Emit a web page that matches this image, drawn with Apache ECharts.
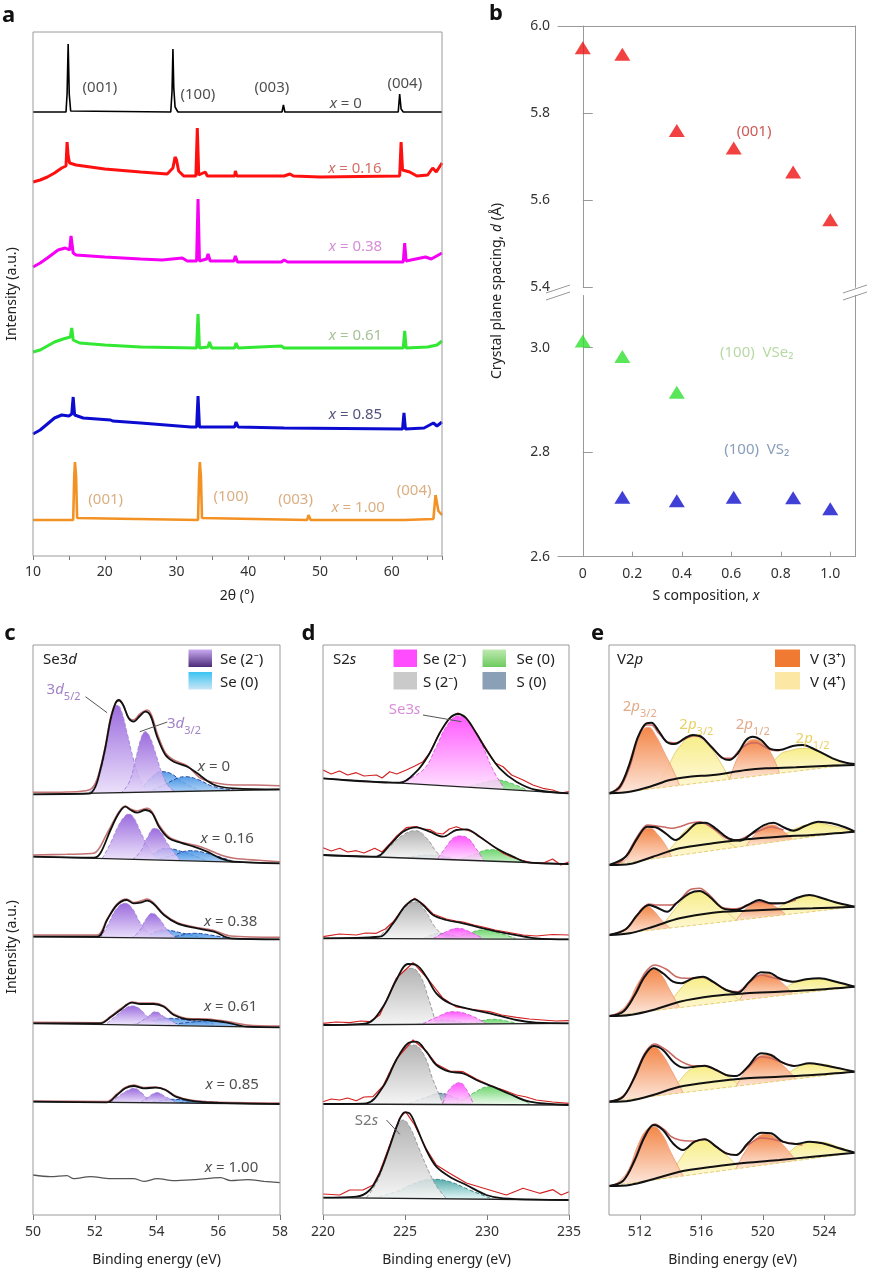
<!DOCTYPE html>
<html><head><meta charset="utf-8">
<script src="https://cdn.jsdelivr.net/npm/echarts@6/dist/echarts.min.js"></script>
<style>html,body{margin:0;padding:0;background:#fff}#chart{width:869px;height:1271px}</style>
</head><body><div id="chart"></div><script>
// ================= DATA =================
// ---- Panel a: XRD patterns (2θ, stacked intensity a.u.)
const xrd_x0 = [[10,444],[14.6,444],[14.75,462],[14.9,512],[15.05,462],[15.25,445],[29.2,444],[29.38,465],[29.5,507],[29.62,468],[29.8,449],[30.2,444],[44.7,444],[44.9,451],[45.1,444],[60.9,444],[61.1,462],[61.3,447],[61.6,444],[67,444]];
const xrd_x016 = [[10,374],[11,376],[12,379],[13,383],[14,388],[14.6,390],[14.75,414],[14.9,400],[15.1,393],[16,391],[18,389],[20,387],[25,384],[28.7,382],[29.5,388],[29.8,399],[30.0,396],[30.3,385],[31,380],[32.7,380],[32.9,428],[33.1,381],[34.0,384],[34.3,380],[38.1,380],[38.2,385],[38.4,380],[45,380],[45.8,382],[46.3,380],[50,379],[61.1,380],[61.3,414],[61.5,386],[62.5,384],[63.5,380],[65,381],[65.7,388],[66.2,384],[67,393]];
const xrd_x038 = [[10,289],[11,293],[12,298],[13.5,306],[14.5,308],[15.1,306],[15.3,320],[15.6,303],[16,301],[20,299],[25,297],[28,296],[30.8,298],[31.5,295],[32.8,295],[33.0,357],[33.2,295],[34.2,297],[34.4,302],[34.7,295],[38.0,295],[38.2,300],[38.5,294],[44.6,294],[45,296],[45.5,294],[61.6,294],[61.8,313],[62.0,295],[64.7,299],[65.5,297],[67,303]];
const xrd_x061 = [[10,204],[11,206],[12,210],[13,214],[14.2,217],[15.2,219],[15.4,228],[15.6,216],[16.5,213],[20,211],[25,209],[32.8,208],[33.0,242],[33.2,208],[34.4,209],[34.6,214],[34.9,208],[38.1,208],[38.3,213],[38.6,208],[44.6,210],[45,208],[61.6,208],[61.8,225],[62.0,208],[65,209],[66.3,211],[67,215]];
const xrd_x085 = [[10,122],[11,126],[12,132],[13,138],[14.0,141],[15.0,140],[15.4,142],[15.6,159],[15.8,141],[17,138],[20.8,136],[20.9,138],[21.1,135],[25,133],[32,129],[32.8,129],[33.0,160],[33.2,129],[38.1,129],[38.3,134],[38.6,129],[45,128],[61.5,127],[61.7,143],[61.9,127],[64.5,128],[65.8,133],[66.3,130],[67,134]];
const xrd_x100 = [[10,36],[15.6,36],[15.75,80],[15.85,94],[16.0,80],[16.15,38],[24.2,37],[24.4,39],[24.6,37],[33.0,36],[33.15,80],[33.25,94],[33.4,80],[33.55,38],[48.2,36],[48.4,41],[48.7,36],[61.8,36],[61.9,38],[62.0,36],[65.8,37],[66.1,61],[66.5,45],[67,41]];
const xrdColors = ['#000000','#ff1010','#f500f5','#33e833','#0c0cd0','#f39222'];
const xrdWidths = [1.6,3,3,3,3,2.6];
const aAnn = [
 [19.33,467,'{n|(001)}','#222'],[32.98,460,'{n|(100)}','#222'],[43.29,467,'{n|(003)}','#222'],
 [53.59,451,'{i|x}{n| = 0}','#222'],[61.81,471,'{n|(004)}','#222'],
 [54.85,386,'{i|x}{n| = 0.16}','#c84a3c'],[54.94,307.7,'{i|x}{n| = 0.38}','#cc6fcc'],
 [54.94,219,'{i|x}{n| = 0.61}','#8fb27a'],[54.94,139.3,'{i|x}{n| = 0.85}','#27275a'],
 [20.13,54.3,'{n|(001)}','#d29a62'],[37.58,58,'{n|(100)}','#d29a62'],[46.59,54.3,'{n|(003)}','#d29a62'],
 [55.31,47,'{i|x}{n| = 1.00}','#d29a62'],[63.11,64,'{n|(004)}','#d29a62']
];

// ---- Panel b: crystal plane spacing
const sComp = [0,0.16,0.38,0.61,0.85,1.0];
const d001 = [5.95,5.935,5.76,5.72,5.665,5.555];
const d100VSe2_x = [0,0.16,0.38];
const d100VSe2 = [3.013,2.983,2.915];
const d100VS2_x = [0.16,0.38,0.61,0.85,1.0];
const d100VS2 = [2.714,2.707,2.714,2.713,2.692];
const bXTicks = [0,0.2,0.4,0.6,0.8,1.0];

// ---- Panel c: Se3d (binding energy eV, stacked intensity)
const c1_base=[[50,420.7],[58,425.5]];
const c1_env=[[50,420.7],[51.81,421.3],[52.02,428.3],[52.18,445],[52.35,468.3],[52.51,495],[52.67,511.7],[52.78,515],[52.92,510],[53.10,496.7],[53.26,493.3],[53.46,499],[53.64,503.3],[53.81,499],[54.02,478.3],[54.29,460],[54.56,453.3],[55.0,448.3],[55.32,441.7],[55.64,434.3],[55.97,429],[56.51,426.7],[58,425.7]];
const c1_data=[[50,422.7],[51.1,423],[51.81,425],[52.02,431.7],[52.18,446.7],[52.35,470],[52.51,497],[52.67,512],[52.78,514],[52.92,510],[53.10,497],[53.26,495],[53.46,501],[53.70,505],[53.85,499],[54.02,481.7],[54.29,462],[54.56,455],[55.0,449],[55.43,436.7],[55.97,431.7],[56.51,430],[57.16,430],[58,429.3]];
const c1_p52=[[51.81,421.3],[52.18,443.3],[52.40,475],[52.59,501.7],[52.72,510],[52.85,505],[53.05,481.7],[53.26,455],[53.48,435],[53.75,424],[54.02,421.7]];
const c1_p32=[[52.83,421.3],[53.10,431.7],[53.32,455],[53.50,476.7],[53.64,483.3],[53.78,478.3],[53.97,461.7],[54.18,441.7],[54.45,426.7],[54.78,421.7]];
const c1_s0a=[[53.05,421.7],[53.48,426.7],[53.86,438.3],[54.15,443.3],[54.45,441.7],[54.83,433.3],[55.43,424]];
const c1_s0b=[[53.70,422.3],[54.24,430],[54.67,436.7],[54.94,438.3],[55.32,435.7],[55.86,428.3],[56.51,425]];

const c2_base=[[50,358.3],[58,351.7]];
const c2_env=[[50,358.3],[51.97,357.3],[52.18,361.7],[52.51,385],[52.78,401.7],[52.99,408.3],[53.16,405],[53.37,402.3],[53.64,405],[53.86,401.7],[54.08,388.3],[54.40,376.7],[54.78,372.3],[55.21,368.3],[55.64,363.3],[56.08,356.7],[56.51,353.3],[58,351.7]];
const c2_data=[[50,360],[51.10,360.7],[51.97,361.7],[52.40,381.7],[52.78,403],[52.99,409],[53.16,406],[53.37,404],[53.70,406.7],[53.86,403],[54.08,390],[54.40,378],[54.78,373],[55.43,368.3],[56.08,360],[56.51,356.7],[58,353.3]];
const c2_p52=[[52.24,356.3],[52.51,371.7],[52.78,390],[52.96,398.3],[53.10,401],[53.26,397.3],[53.48,383.3],[53.75,366.7],[54.02,355.7]];
const c2_p32=[[53.21,355],[53.48,363.3],[53.72,378.3],[53.94,386.7],[54.13,383.3],[54.35,371.7],[54.78,354.3]];
const c2_s0a=[[53.26,355],[53.81,360],[54.29,366.7],[54.83,363.3],[55.64,354.3]];
const c2_s0b=[[53.91,354.3],[54.56,360],[55.10,364.3],[55.64,361.7],[56.51,353.3]];

const c3_base=[[50,278.3],[58,275.7]];
const c3_env=[[50,278.3],[52.08,278.3],[52.40,295],[52.72,310],[53.03,315],[53.26,311.7],[53.48,312.3],[53.70,314.3],[53.91,311],[54.24,300],[54.67,291.7],[55.21,287.3],[55.86,283.3],[56.40,276.7],[58,275.7]];
const c3_data=[[50,280],[52.08,280],[52.40,296],[52.72,311],[53.03,316],[53.26,312.5],[53.48,314],[53.70,316],[53.91,312],[54.24,301],[54.67,292.5],[55.21,288],[55.86,284.5],[56.40,279],[58,277.7]];
const c3_p52=[[52.18,276.7],[52.45,291.7],[52.72,306.7],[52.99,311.7],[53.21,306.7],[53.48,291.7],[53.91,276]];
const c3_p32=[[53.16,276],[53.43,283.3],[53.68,296.7],[53.86,301.7],[54.08,296.7],[54.35,285],[54.67,276]];
const c3_s0a=[[53.16,276],[53.70,280],[54.24,285],[54.78,282.3],[55.64,276]];
const c3_s0b=[[54.02,276],[54.67,279],[55.21,281.7],[55.75,280],[56.40,276]];

const c4_base=[[50,191.7],[58,187.7]];
const c4_env=[[50,191.7],[52.18,191.7],[52.51,197.7],[52.83,205],[53.21,212.3],[53.48,211],[53.91,211],[54.24,208.3],[54.56,200],[55.0,195.7],[55.64,195],[56.30,192.3],[56.94,188.3],[58,187.7]];
const c4_data=[[50,192.7],[52.18,192.3],[52.51,198.5],[52.83,206],[53.21,213],[53.48,212],[53.91,212],[54.24,209],[54.56,201],[55.0,196.5],[55.64,196],[56.30,193.5],[56.94,190],[58,189]];
const c4_p52=[[52.40,191.7],[52.72,200],[52.99,206.7],[53.21,209],[53.43,206.7],[53.70,198.3],[54.02,191]];
const c4_p32=[[53.37,191],[53.70,197.7],[53.97,203.3],[54.24,198.3],[54.67,191]];
const c4_s0a=[[53.26,191],[53.81,194],[54.35,196.7],[55.0,195],[55.86,191]];
const c4_s0b=[[54.35,190.3],[55.10,192.7],[55.64,194],[56.18,192.7],[56.72,189]];

const c5_base=[[50,113.3],[58,111]];
const c5_env=[[50,113.3],[52.40,112.7],[52.72,120],[52.99,126.7],[53.26,129],[53.59,126.7],[53.97,127.3],[54.29,125],[54.62,118.3],[55.10,114.3],[55.86,112.3],[58,111]];
const c5_data=[[50,114],[52.40,113.5],[52.72,121],[52.99,127.5],[53.26,130],[53.59,127.5],[53.97,128],[54.29,125.5],[54.62,119],[55.10,115],[55.86,113],[58,112]];
const c5_p52=[[52.51,112.3],[52.83,120],[53.10,125],[53.26,126.7],[53.48,123.3],[53.81,112]];
const c5_p32=[[53.48,112],[53.75,118.3],[54.02,122.3],[54.29,118.3],[54.67,112]];
const c5_s0a=[[53.48,111.7],[54.02,113.7],[54.45,115.7],[55.10,114.3],[55.86,111.7]];
const c5_s0b=[[54.56,111.5],[55.43,113.7],[56.3,111.3]];

const c6_data=[[50,40],[50.56,38.3],[51.10,39.3],[51.32,36.3],[51.86,38.3],[52.51,36.3],[53.26,36.3],[53.59,33.7],[54.02,36.3],[54.56,34.3],[55.21,35.3],[56.08,37.3],[56.40,34.3],[56.94,35.3],[57.48,33.7],[58,32.3]];
const cAnn = [
 [55.86,446.7,'{i|x}{n| = 0}','#222'],[56.29,375,'{i|x}{n| = 0.16}','#222'],[56.40,291.7,'{i|x}{n| = 0.38}','#222'],
 [56.40,206.7,'{i|x}{n| = 0.61}','#222'],[56.45,129,'{i|x}{n| = 0.85}','#222'],[56.43,45.7,'{i|x}{n| = 1.00}','#222'],
 [50.99,524,'{n|3}{i|d}{s|5/2}','#8a62b8'],[54.89,490,'{n|3}{i|d}{s|3/2}','#8a62b8']
];
const cLeader1=[[51.70,518.3],[52.40,502.3]];
const cLeader2=[[54.35,493],[53.46,483.3]];

// ---- Panel d: S2s
const d1_base=[[220,436.7],[235,421.7]];
const d1_env=[[220,436.7],[224.67,432.3],[225.69,443.3],[226.50,461.7],[227.11,481.7],[227.72,496.7],[228.23,501],[228.74,496.7],[229.35,481.7],[229.96,465],[230.77,446.7],[231.79,433.3],[233.0,425],[235,421.7]];
const d1_data=[[220,445],[220.5,441],[221,444],[221.5,440],[222.03,442.3],[222.5,439],[223.25,440],[223.6,437],[224.07,443.3],[224.5,441],[225.08,445],[225.6,449],[226.10,453.3],[226.5,462],[227.11,482],[227.72,497],[228.23,502],[228.74,497],[229.35,482],[229.96,466],[230.5,452],[230.98,448.3],[231.5,440],[232.2,435],[232.8,430],[233.41,426.7],[234,425],[234.5,422],[235,423.3]];
const d1_se2=[[224.67,432.3],[226.10,445],[226.91,468.3],[227.52,488.3],[228.23,499],[228.94,491.7],[229.65,471.7],[230.37,445],[230.98,428.3]];
const d1_se0=[[228.94,429],[229.76,432.3],[230.57,435],[231.38,432.3],[232.40,425.3]];

const d2_base=[[220,360],[235,351]];
const d2_env=[[220,360],[223.25,358.3],[224.07,370],[224.88,383.3],[225.69,387.7],[226.50,383.3],[227.32,378.3],[228.13,385],[228.74,385.7],[229.55,378.3],[230.57,366.7],[231.59,358.3],[232.60,352.3],[235,351]];
const d2_data=[[220,367.3],[220.5,364],[221.02,366.7],[221.5,363],[222.03,364.3],[222.5,362],[223.15,366.7],[223.6,363],[224.07,371],[224.5,379],[225.08,387.3],[225.69,388.5],[226.10,386],[226.50,385.5],[226.9,382],[227.32,381],[227.7,386],[228.13,388.3],[228.5,386],[228.94,384],[229.35,381],[229.76,376],[230.2,371],[230.98,361.7],[231.5,358],[232.2,354.3],[232.8,352],[233.41,351.7],[234,356],[234.5,350],[235,353.3]];
const d2_s2=[[223.25,358.3],[224.07,368.3],[224.88,380],[225.65,384.3],[226.32,376.7],[226.91,363.3],[227.32,356.7]];
const d2_s0=[[224.67,356.3],[225.69,359],[226.50,360],[227.32,359],[228.13,355.7]];
const d2_se2=[[227.01,356.7],[227.52,368.3],[227.93,376.7],[228.33,379],[228.84,376.7],[229.25,368.3],[229.76,355.7]];
const d2_se0=[[228.13,355],[229.15,360],[230.16,365.3],[230.98,363.3],[232.20,352.3]];

const d3_base=[[220,276.7],[235,275.7]];
const d3_env=[[220,276.7],[223.46,278.3],[224.27,291.7],[224.98,308.3],[225.59,315.7],[226.10,310],[226.71,300],[227.52,295],[228.54,291.7],[229.76,286.7],[231.18,281.7],[233.0,276.7],[235,275.7]];
const d3_data=[[220,278.3],[221,281],[222.03,280],[222.6,282],[223.25,281.7],[223.8,286],[224.27,293],[224.98,309],[225.59,316.7],[226.10,311],[226.71,301],[227.52,296],[228.1,294],[228.54,293],[229.2,290],[229.76,288],[230.5,285],[231.18,283],[232.2,280],[233.0,279],[234,280.5],[235,280]];
const d3_s2=[[223.25,276.7],[224.07,288.3],[224.88,305],[225.59,313.3],[226.20,305],[226.81,288.3],[227.52,276.3]];
const d3_s0=[[226.10,276.3],[227.11,281.7],[228.54,276.3]];
const d3_se2=[[226.71,276.3],[227.52,283.3],[228.23,286.7],[228.94,283.3],[229.76,276.3]];
const d3_se0=[[227.72,276.3],[228.74,281],[229.76,285],[230.77,281.7],[231.79,276.3]];

const d4_base=[[220,190],[235,191.7]];
const d4_env=[[220,190],[222.64,191.7],[223.66,208.3],[224.47,235],[225.18,251],[225.69,250],[226.30,238.3],[226.91,221.7],[227.72,211.7],[228.74,206.7],[230.16,201.7],[231.79,195],[233.0,192.3],[235,191.7]];
const d4_data=[[220,191.7],[220.8,193],[221.63,192.3],[222.3,194],[222.85,193.3],[223.46,200],[224.47,236.7],[225.49,252.3],[226.40,236],[227.32,216.7],[228.13,208],[228.94,206],[230.16,203.3],[230.9,200],[231.79,197.7],[232.6,196],[233.41,195],[234.2,194],[235,194.3]];
const d4_s2=[[222.64,191],[223.46,201.7],[224.27,228.3],[224.88,243.3],[225.39,246.7],[225.90,240],[226.40,218.3],[226.91,190]];
const d4_s0=[[225.69,191],[227.32,195],[228.94,191]];
const d4_se2=[[226.10,191],[226.91,197.7],[227.93,203.3],[228.94,200],[229.96,191]];
const d4_se0=[[228.54,191],[229.55,194],[230.37,195.7],[231.18,194],[232.0,191]];

const d5_base=[[220,111],[235,110]];
const d5_env=[[220,111],[222.64,111.7],[223.66,128.3],[224.47,155],[225.18,171.7],[225.69,173.3],[226.30,163.3],[226.91,150],[227.72,143.3],[228.54,141.7],[229.35,135],[230.37,128.3],[231.38,121],[232.60,113.3],[235,110]];
const d5_data=[[220,113.3],[220.5,116],[221.02,115],[221.5,117],[222.03,114.3],[222.5,118],[223.05,118.3],[223.66,129],[224.47,156],[225.49,175],[226.30,164],[226.91,151],[227.72,144],[228.54,143.3],[229.35,136],[230.37,128.3],[231.0,125],[231.79,120],[232.4,118],[233.0,115],[234,113],[235,111.7]];
const d5_s2=[[222.64,111],[223.46,123.3],[224.27,150],[224.98,166.7],[225.49,170],[226.10,161.7],[226.71,135],[227.32,111]];
const d5_s0=[[225.28,111.7],[226.30,117.7],[227.11,121.7],[227.93,118.3],[228.74,111.7]];
const d5_se2=[[227.32,111.7],[227.68,125],[228.33,132.3],[228.74,125.7],[229.15,111.7]];
const d5_se0=[[228.13,111],[229.15,121.7],[230.16,128.3],[231.18,123.3],[231.99,116.7],[232.60,111]];

const d6_base=[[220,17.3],[235,15]];
const d6_env=[[220,17.3],[222.03,18.3],[222.85,25],[223.46,41.7],[224.07,68.3],[224.57,91.7],[224.98,102.7],[225.28,101.7],[225.69,88.3],[226.30,65],[226.91,48.3],[227.72,38.3],[228.74,30],[229.96,20],[230.98,16.7],[235,15]];
const d6_data=[[220,21],[221.02,20],[221.63,25],[222.44,25],[223.05,30],[223.46,43],[224.07,70],[224.67,96.7],[225.04,103.3],[225.59,90],[226.30,66],[226.91,50],[227.72,41.7],[228.74,32],[230.16,25],[231.18,20],[232.20,26.7],[233.21,21.7],[234.02,25.3],[234.53,20],[235,23.3]];
const d6_s2=[[222.64,17.3],[223.35,35],[223.96,65],[224.47,86.7],[224.88,95],[225.28,88.3],[225.89,65],[226.50,41.7],[227.01,26.7],[227.52,16.7]];
const d6_s0=[[223.05,16.7],[224.47,23.3],[225.69,32.3],[226.71,35.7],[227.72,33.3],[228.94,25],[230.37,15.7]];
const dAnn = [[224.98,503.3,'{n|Se3}{i|s}','#d070d0'],[222.65,92.3,'{n|S2}{i|s}','#555']];
const dLeader1=[[226.10,500],[228.44,493.3]];
const dLeader2=[[223.87,95],[224.68,80.7]];

// ---- Panel e: V2p
const e1_line=[[510,421],[526,451]];
const e1_shirley=[[510,421.7],[511.35,423.3],[512.65,428.3],[513.95,435],[515.24,438.3],[516.76,440],[518.92,445],[520.22,446.7],[522.16,447.7],[524.32,449.3],[526,450]];
const e1_env=[[510,421.7],[510.70,428.3],[511.35,451.7],[511.89,478.3],[512.43,491.7],[512.76,492.3],[513.19,485],[513.73,473.3],[514.27,471],[514.92,476.7],[515.46,480],[516.0,478.3],[516.65,468.3],[517.41,456.7],[517.84,455],[518.38,461.7],[518.92,475],[519.35,478.3],[519.89,475],[520.43,466.7],[521.08,465],[521.95,469],[522.59,470],[523.46,465],[524.54,456.7],[525.41,452.3],[526,451]];
const e1_data=[[510,421],[510.70,426.7],[511.35,448.3],[511.89,476.7],[512.43,490],[512.76,490],[513.24,481.7],[513.79,473.3],[514.38,472.3],[515.03,476.7],[515.57,479.3],[516.11,476.7],[516.76,466.7],[517.41,456.7],[517.95,456.7],[518.49,465],[519.03,471],[519.57,472.3],[520.11,468.3],[520.54,465],[521.08,464.3]];
const e1_v3a=[[510.05,421.1],[510.92,435],[511.57,465],[512.11,483.3],[512.54,487.7],[513.08,478.3],[513.62,461.7],[514.16,445],[514.59,429.6]];
const e1_v4a=[[513.08,426.8],[513.95,451.7],[514.59,468.3],[515.46,479],[516.32,471.7],[517.08,456.7],[517.84,435.7]];
const e1_v3b=[[517.84,435.7],[518.49,461.7],[519.03,473.3],[519.46,475.3],[520.0,471.7],[520.54,461.7],[521.08,441.8]];
const e1_v4b=[[520.22,440.2],[521.08,460],[521.95,465],[522.59,466.7],[523.46,465],[524.32,458.3],[525.41,449.9]];

const e2_line=[[510,350],[526,384.3]];
const e2_shirley=[[510,350],[511.35,351],[512.86,358.3],[514.59,366.7],[516.76,371.7],[518.92,375.7],[521.08,378.3],[523.24,380],[526,383.3]];
const e2_env=[[510,350],[511.08,358.3],[511.84,376.7],[512.49,388.3],[513.03,387.7],[513.68,381.7],[514.32,375],[514.97,381.7],[515.73,391.7],[516.27,392.3],[516.92,386.7],[517.78,376.7],[518.54,374.3],[519.30,381.7],[520.05,389.7],[520.70,392.3],[521.35,387.7],[522.0,384.3],[522.76,389],[523.62,393.3],[524.49,391.7],[525.35,387.7],[526,383.3]];
const e2_data=[[510,350],[510.65,352.3],[511.08,358.3],[511.84,378.3],[512.49,390],[513.03,389.3],[513.68,387.7],[514.11,386.7],[514.59,388.3],[515.24,391.7],[515.89,393.3],[516.76,386.7],[517.62,376.7],[518.38,375],[519.14,380],[519.89,385],[520.54,388],[521.35,385]];
const e2_v3a=[[510.05,350.1],[511.08,355],[511.57,371.7],[512.11,383.3],[512.65,386.7],[513.19,380],[513.73,368.3],[514.05,358.7]];
const e2_v4a=[[513.51,357.5],[514.38,373.3],[515.14,386.7],[515.89,391.7],[516.65,387.3],[517.41,376.7],[518.27,367.7]];
const e2_v3b=[[518.92,369.1],[519.57,381.7],[520.11,388.3],[520.70,390],[521.08,386.7],[521.51,381.7],[521.95,375.6]];
const e2_v4b=[[520.65,372.8],[521.73,383.3],[522.81,390],[523.57,391.7],[524.54,389],[525.41,385.7],[526,384.3]];

const e3_line=[[510,280],[526,308.3]];
const e3_shirley=[[510,280],[511.35,281.7],[512.86,288.3],[514.59,296.7],[516.76,302.3],[518.92,304.3],[521.08,305.7],[523.24,306.7],[526,308.3]];
const e3_env=[[510,280],[511.08,285.7],[511.84,300],[512.59,310],[513.14,307.3],[513.78,303.3],[514.38,311.7],[515.24,321.7],[515.89,324],[516.54,318.3],[517.41,306.7],[518.27,305],[519.03,310],[519.78,315],[520.54,311.7],[521.30,311.7],[522.16,316.7],[523.03,320],[523.89,316.7],[524.97,311.7],[526,308.3]];
const e3_data=[[510,280],[511.08,285.7],[511.84,300],[512.59,311],[513.14,310],[513.89,310],[514.38,311.7],[515.24,325],[515.89,326.7],[516.54,320],[517.41,307.3],[518.27,306.3],[519.03,310],[519.78,313.3],[520.54,311],[521.30,311.7],[522.16,315]];
const e3_v3a=[[510.05,280.1],[511.08,285],[511.73,296.7],[512.11,306.7],[512.43,309],[512.86,305],[513.41,295],[513.95,287]];
const e3_v4a=[[513.30,285.8],[514.16,303.3],[515.03,318.3],[515.78,323.3],[516.54,318.3],[517.41,306.7],[518.27,294.6]];
const e3_v3b=[[518.27,294.6],[518.92,306.7],[519.46,311.7],[520.0,313.3],[520.65,310],[521.51,300.4]];
const e3_v4b=[[520.22,298.1],[521.30,310],[522.16,315.7],[523.03,319],[523.89,316.7],[524.97,311.7],[526,308.3]];

const e4_line=[[510,199],[526,228.3]];
const e4_shirley=[[510,199],[511.35,200],[512.86,205],[514.59,213.3],[516.76,219],[518.92,221.7],[521.08,223.3],[523.24,225],[526,228.3]];
const e4_env=[[510,199],[510.92,203.3],[511.68,220],[512.32,238.3],[512.91,246.7],[513.51,241.7],[514.16,233.3],[514.70,231.7],[515.46,236.7],[516.11,238.3],[516.76,233.3],[517.62,225],[518.38,222.3],[519.14,233.3],[519.89,242.7],[520.43,242.3],[521.08,236.7],[521.95,233.3],[522.81,235.7],[523.68,236.7],[524.76,233.3],[526,228.3]];
const e4_data=[[510,199],[510.92,204.3],[511.68,221.7],[512.32,241.7],[512.97,250],[513.73,245.7],[514.38,238.3],[515.03,236.7],[515.46,236.7],[516.11,237.7],[516.76,233.3],[517.62,225],[518.38,223.3],[519.14,233.3],[519.89,240],[520.54,237.7],[521.08,235.7],[521.95,233.3]];
const e4_v3a=[[510.27,199.5],[511.14,210],[511.89,231.7],[512.43,241.7],[512.91,245.7],[513.41,240],[513.95,225],[514.59,207.4]];
const e4_v4a=[[513.73,205.8],[514.59,225],[515.35,235],[516.0,236.7],[516.76,232.3],[517.62,225],[518.49,214.5]];
const e4_v3b=[[518.49,214.5],[519.14,231.7],[519.68,239],[520.22,241],[520.86,236.7],[521.41,230],[521.95,220.9]];
const e4_v4b=[[520.86,218.9],[521.95,231.7],[522.81,235],[523.68,235.7],[524.76,233.3],[526,228.3]];

const e5_line=[[510,113.3],[526,143.3]];
const e5_shirley=[[510,113.3],[511.35,114.3],[512.86,120],[514.59,128.3],[516.76,133.3],[518.92,136.7],[521.08,138.3],[523.24,140],[526,143.3]];
const e5_env=[[510,113.3],[510.92,118.3],[511.68,138.3],[512.32,160],[512.91,169],[513.51,165],[514.27,151.7],[514.92,147.3],[515.57,148.3],[516.22,149.3],[516.97,145],[517.62,140],[518.27,139],[519.03,148.3],[519.89,161.7],[520.54,160],[521.30,152.3],[522.05,149],[523.03,151.7],[523.89,150],[524.97,146.7],[526,143.3]];
const e5_data=[[510,113.3],[510.92,118.3],[511.68,139],[512.32,161.7],[512.97,171],[513.73,165],[514.38,156.7],[515.03,151],[515.57,149],[516.22,149.3],[516.97,145],[517.62,140],[518.27,139],[519.03,147],[519.89,158.3],[520.54,156.7],[521.30,152.3],[522.05,149]];
const e5_v3a=[[510.27,113.8],[511.14,123.3],[511.89,148.3],[512.43,163.3],[512.91,167.7],[513.41,161.7],[514.05,145],[514.81,122.3]];
const e5_v4a=[[513.95,120.7],[514.81,138.3],[515.46,146.7],[516.11,148.3],[516.86,145],[517.62,140],[518.49,129.2]];
const e5_v3b=[[518.27,128.8],[518.92,145],[519.57,156.7],[520.22,160],[520.86,155.7],[521.51,146.7],[522.16,136.1]];
const e5_v4b=[[521.08,134.1],[522.16,146.7],[523.03,151],[523.89,150.7],[524.97,146.7],[526,143.3]];

const e6_line=[[510,29],[526,62.3]];
const e6_shirley=[[510,29],[511.35,30],[512.86,35.7],[514.59,43.3],[516.76,48.3],[518.92,52.3],[521.08,55],[523.24,58.3],[526,62.3]];
const e6_env=[[510,29],[510.92,34.3],[511.68,55],[512.32,78.3],[512.91,90],[513.51,85],[514.16,71.7],[514.81,65],[515.57,73.3],[516.22,75.7],[516.97,68.3],[517.62,61.7],[518.27,60],[519.03,71.7],[519.89,82.3],[520.54,81.7],[521.30,73.3],[522.16,71],[523.03,73.3],[523.89,71.7],[524.97,66.7],[526,62.3]];
const e6_data=[[510,29],[510.92,34.3],[511.68,56.7],[512.32,80],[512.97,91],[513.62,85],[514.05,78.3],[514.59,75],[515.24,74],[515.57,74],[516.22,75.7],[516.97,68.3],[517.62,61.7],[518.27,60],[519.03,70],[519.89,77],[520.54,76],[521.30,73.3],[522.16,71],[522.59,70]];
const e6_v3a=[[510.27,29.6],[511.14,41.7],[511.89,70],[512.43,85],[512.91,88.3],[513.41,81.7],[514.05,61.7],[514.81,39]];
const e6_v4a=[[513.95,37.2],[514.81,60],[515.57,72.3],[516.22,75],[516.97,68.3],[517.62,60],[518.49,46.7]];
const e6_v3b=[[518.27,46.2],[518.92,65],[519.57,76.7],[520.22,81],[520.86,76.7],[521.51,66.7],[522.16,54.3]];
const e6_v4b=[[521.08,52],[522.16,68.3],[523.03,73.3],[523.89,72.7],[524.97,67.7],[526,62.3]];
const eAnn = [[512.0,506.7,'{n|2}{i|p}{s|3/2}','#d9946a'],[515.68,488.3,'{n|2}{i|p}{s|3/2}','#e3c53e'],[519.35,488.3,'{n|2}{i|p}{s|1/2}','#d9946a'],[523.24,475,'{n|2}{i|p}{s|1/2}','#e3c53e']];
const eXTicks = [512,516,520,524];

// ================= BUILD =================
const FONT = "'Noto Sans', 'DejaVu Sans', sans-serif";
const YI = {0:0, 1:1, 2:3, 3:5, 4:6, 5:7};
const RICH = {
  n:{fontFamily:FONT,fontSize:15,verticalAlign:'top',lineHeight:18},
  i:{fontFamily:FONT,fontSize:15,fontStyle:'italic',verticalAlign:'top',lineHeight:18},
  s:{fontFamily:FONT,fontSize:11,verticalAlign:'top',lineHeight:11,padding:[9,0,0,0]}
};
const series = [];
function addLine(g, pts, color, width, z, extra){
  series.push(Object.assign({type:'line', xAxisIndex:g, yAxisIndex:YI[g], data:pts, symbol:'none', silent:true,
    smooth:false, z:z, lineStyle:{color:color, width:width}}, extra||{}));
}
function addFill(g, pts, col, z){
  const ys = pts.map(p=>p[1]); const mx = Math.max.apply(null, ys), mn = Math.min.apply(null, ys);
  const f = Math.max(0.05, Math.min(1, (mx-mn)/mx));
  series.push({type:'line', xAxisIndex:g, yAxisIndex:YI[g], data:pts, symbol:'none', silent:true, smooth:0.45, z:z,
    lineStyle:{color:col.line, width:1, type: col.dash?'dashed':'solid'},
    areaStyle:{opacity:col.op||0.85, color:{type:'linear',x:0,y:0,x2:0,y2:1,colorStops:[{offset:0,color:col.top},{offset:f,color:col.bot},{offset:1,color:col.bot}]}}});
}
function addMask(g, pts, z){
  series.push({type:'line', xAxisIndex:g, yAxisIndex:YI[g], data:pts, symbol:'none', silent:true, z:z,
    lineStyle:{opacity:0, width:0}, areaStyle:{color:'#ffffff', opacity:1}});
}
function addLabels(g, items, z){
  series.push({type:'scatter', xAxisIndex:g, yAxisIndex:YI[g], z:z||150, silent:true, symbolSize:1,
    itemStyle:{color:'rgba(0,0,0,0)'},
    data: items.map(it=>({value:[it[0],it[1]], name:it[2], label:{color:it[3]}})),
    label:{show:true, position:'inside', formatter:p=>p.name, rich:RICH, fontFamily:FONT, fontSize:15}});
}

// Panel a
[xrd_x0,xrd_x016,xrd_x038,xrd_x061,xrd_x085,xrd_x100].forEach((d,i)=>addLine(0,d,xrdColors[i],xrdWidths[i],5+i));
addLabels(0, aAnn);

// Panel b
series.push({type:'scatter', xAxisIndex:1, yAxisIndex:1, symbol:'triangle', symbolSize:[16,13], itemStyle:{color:'#ee1111'}, data:sComp.map((x,i)=>[x,d001[i]]), z:5});
series.push({type:'scatter', xAxisIndex:2, yAxisIndex:3, symbol:'triangle', symbolSize:[16,13], itemStyle:{color:'#2fe02f'}, data:d100VSe2_x.map((x,i)=>[x,d100VSe2[i]]), z:5});
series.push({type:'scatter', xAxisIndex:2, yAxisIndex:3, symbol:'triangle', symbolSize:[16,13], itemStyle:{color:'#1010cc'}, data:d100VS2_x.map((x,i)=>[x,d100VS2[i]]), z:5});
addLabels(1, [[0.692,5.754,'{n|(001)}','#c0302a']]);
addLabels(2, [[0.703,2.988,'{n|(100)  VSe₂}','#a6cf8e'],[0.703,2.801,'{n|(100)  VS₂}','#6a86ab']]);

// Panel c
const C_PUR = {top:'#8a52d8', bot:'#e8dcfa', line:'#a688dc', dash:true};
const C_BLU = {top:'#3a8ce4', bot:'#d9ebfb', line:'#2b4da5', dash:true};
const cRows = [
  [c1_base,c1_env,c1_data,[c1_p52,c1_p32],[c1_s0a,c1_s0b]],
  [c2_base,c2_env,c2_data,[c2_p52,c2_p32],[c2_s0a,c2_s0b]],
  [c3_base,c3_env,c3_data,[c3_p52,c3_p32],[c3_s0a,c3_s0b]],
  [c4_base,c4_env,c4_data,[c4_p52,c4_p32],[c4_s0a,c4_s0b]],
  [c5_base,c5_env,c5_data,[c5_p52,c5_p32],[c5_s0a,c5_s0b]]
];
cRows.forEach((r,i)=>{
  const z0 = 20*(i+1);
  r[4].forEach((p,j)=>addFill(3,p,C_BLU,z0+1+j));
  r[3].forEach((p,j)=>addFill(3,p,C_PUR,z0+3+j));
  addMask(3, r[0], z0+8);
  addLine(3, r[0], '#222', 1.3, z0+9);
  addLine(3, r[2], '#c47272', 1.6, z0+10, {smooth:0.3});
  addLine(3, r[1], '#111', 1.8, z0+11, {smooth:0.35});
});
addLine(3, c6_data, '#555', 1.3, 130, {smooth:0.3});
addLine(3, cLeader1, '#555', 1, 140);
addLine(3, cLeader2, '#555', 1, 140);
addLabels(3, cAnn);

// Panel d
const D_PINK = {top:'#ff3cff', bot:'#ffd8ff', line:'#e060e0', dash:true};
const D_GRAY = {top:'#a6a6a6', bot:'#f3f3f3', line:'#9a9a9a', dash:true};
const D_GREEN = {top:'#58d058', bot:'#e8f8e8', line:'#62bf62', dash:true};
const D_SLATE = {top:'#6a90a4', bot:'#dde9ef', line:'#5a7a90', dash:true};
const D_TEAL = {top:'#3a9e9e', bot:'#e2f6f6', line:'#3a8a8a', dash:true};
const dRows = [
  [d1_base,d1_env,d1_data,[[d1_se0,D_GREEN],[d1_se2,D_PINK]]],
  [d2_base,d2_env,d2_data,[[d2_s0,D_SLATE],[d2_se0,D_GREEN],[d2_s2,D_GRAY],[d2_se2,D_PINK]]],
  [d3_base,d3_env,d3_data,[[d3_s0,D_SLATE],[d3_se0,D_GREEN],[d3_s2,D_GRAY],[d3_se2,D_PINK]]],
  [d4_base,d4_env,d4_data,[[d4_s0,D_SLATE],[d4_se0,D_GREEN],[d4_s2,D_GRAY],[d4_se2,D_PINK]]],
  [d5_base,d5_env,d5_data,[[d5_s0,D_SLATE],[d5_se0,D_GREEN],[d5_s2,D_GRAY],[d5_se2,D_PINK]]],
  [d6_base,d6_env,d6_data,[[d6_s0,D_TEAL],[d6_s2,D_GRAY]]]
];
dRows.forEach((r,i)=>{
  const z0 = 20*(i+1);
  r[3].forEach((c,j)=>addFill(4,c[0],c[1],z0+1+j));
  addMask(4, r[0], z0+8);
  addLine(4, r[0], '#222', 1.3, z0+9);
  addLine(4, r[2], '#d42222', 1.2, z0+10);
  addLine(4, r[1], '#111', 1.8, z0+11, {smooth:0.35});
});
addLine(4, dLeader1, '#555', 1, 140);
addLine(4, dLeader2, '#555', 1, 140);
addLabels(4, dAnn);

// Panel e
const E_OR = {top:'#f27a35', bot:'#fde6da', line:'#f3a27c', dash:false, op:0.9};
const E_YE = {top:'#f6ec7c', bot:'#fff8d8', line:'#e6d27a', dash:false, op:0.9};
const eRows = [
  [e1_line,e1_shirley,e1_env,e1_data,e1_v3a,e1_v4a,e1_v3b,e1_v4b],
  [e2_line,e2_shirley,e2_env,e2_data,e2_v3a,e2_v4a,e2_v3b,e2_v4b],
  [e3_line,e3_shirley,e3_env,e3_data,e3_v3a,e3_v4a,e3_v3b,e3_v4b],
  [e4_line,e4_shirley,e4_env,e4_data,e4_v3a,e4_v4a,e4_v3b,e4_v4b],
  [e5_line,e5_shirley,e5_env,e5_data,e5_v3a,e5_v4a,e5_v3b,e5_v4b],
  [e6_line,e6_shirley,e6_env,e6_data,e6_v3a,e6_v4a,e6_v3b,e6_v4b]
];
eRows.forEach((r,i)=>{
  const z0 = 20*(i+1);
  series.push({type:'line', xAxisIndex:5, yAxisIndex:7, data:r[1], symbol:'none', silent:true, smooth:0.3, z:z0+1,
    lineStyle:{opacity:0}, areaStyle:{color:'#fbf1bd', opacity:1}});
  addFill(5, r[5], E_YE, z0+2);
  addFill(5, r[7], E_YE, z0+3);
  addFill(5, r[4], E_OR, z0+4);
  addFill(5, r[6], E_OR, z0+5);
  addMask(5, r[0], z0+8);
  addLine(5, r[0], '#e6cf72', 1, z0+9, {lineStyle:{color:'#e6cf72', width:1, type:'dashed'}});
  addLine(5, r[3], '#c96a64', 1.6, z0+10, {smooth:0.3});
  addLine(5, r[1], '#111', 2, z0+11, {smooth:0.3});
  addLine(5, r[2], '#111', 2, z0+12, {smooth:0.35});
});
addLabels(5, eAnn);

// ---- axes
const tickLbl = {color:'#333', fontSize:14, fontFamily:FONT};
const GRAY = '#9a9a9a';
const xAxes = [
  {gridIndex:0, type:'value', min:10, max:67, interval:5, axisLine:{show:false}, splitLine:{show:false},
   axisTick:{show:true, length:4, lineStyle:{color:'#777'}}, axisLabel:Object.assign({margin:9, formatter:v=>(v%10===0?String(v):'')}, tickLbl)},
  {gridIndex:1, type:'value', min:-0.1, max:1.1, position:'top', axisLine:{show:true, lineStyle:{color:GRAY}}, axisTick:{show:false}, axisLabel:{show:false}, splitLine:{show:false}},
  {gridIndex:2, type:'value', min:-0.1, max:1.1, axisLine:{show:true, onZero:false, lineStyle:{color:GRAY}}, splitLine:{show:false},
   axisTick:{show:true, inside:true, length:5, customValues:bXTicks, lineStyle:{color:GRAY}},
   axisLabel:Object.assign({margin:10, customValues:bXTicks, formatter:v=>(v===0?'0':v.toFixed(1))}, tickLbl)},
  {gridIndex:3, type:'value', min:50, max:58, interval:2, axisLine:{show:false}, splitLine:{show:false},
   axisTick:{show:true, length:5, lineStyle:{color:'#777'}}, axisLabel:Object.assign({margin:10}, tickLbl)},
  {gridIndex:4, type:'value', min:220, max:235, interval:5, axisLine:{show:false}, splitLine:{show:false},
   axisTick:{show:true, length:5, lineStyle:{color:'#777'}}, axisLabel:Object.assign({margin:10}, tickLbl)},
  {gridIndex:5, type:'value', min:510, max:526, axisLine:{show:false}, splitLine:{show:false},
   axisTick:{show:true, length:5, customValues:eXTicks, lineStyle:{color:'#777'}}, axisLabel:Object.assign({margin:10, customValues:eXTicks}, tickLbl)}
];
const hiddenY = (g,max)=>({gridIndex:g, type:'value', min:0, max:max, show:false, splitLine:{show:false}});
const yAxes = [
  hiddenY(0,524),
  {gridIndex:1, type:'value', min:5.4, max:6.0, interval:0.2, axisLine:{show:true, lineStyle:{color:GRAY}}, splitLine:{show:false},
   axisTick:{show:true, inside:true, length:10, lineStyle:{color:GRAY}}, axisLabel:Object.assign({margin:8, formatter:v=>v.toFixed(1)}, tickLbl)},
  {gridIndex:1, type:'value', min:5.4, max:6.0, position:'right', axisLine:{show:true, lineStyle:{color:GRAY}}, axisTick:{show:false}, axisLabel:{show:false}, splitLine:{show:false}},
  {gridIndex:2, type:'value', min:2.6, max:3.1, interval:0.2, axisLine:{show:true, lineStyle:{color:GRAY}}, splitLine:{show:false},
   axisTick:{show:true, inside:true, length:10, lineStyle:{color:GRAY}}, axisLabel:Object.assign({margin:8, formatter:v=>v.toFixed(1), showMaxLabel:false}, tickLbl)},
  {gridIndex:2, type:'value', min:2.6, max:3.1, position:'right', axisLine:{show:true, lineStyle:{color:GRAY}}, axisTick:{show:false}, axisLabel:{show:false}, splitLine:{show:false}},
  hiddenY(3,570), hiddenY(4,570), hiddenY(5,570)
];
const boxGrid = (l,t,w,h)=>({left:l, top:t, width:w, height:h, show:true, borderColor:GRAY, borderWidth:1, backgroundColor:'transparent', z:200});
const grids = [
  boxGrid(33,32,409,524),
  {left:558, top:26, width:297, height:261.3},
  {left:558, top:295.5, width:297, height:261.2},
  boxGrid(33,645,247,570),
  boxGrid(323,645,246,570),
  boxGrid(609,645,246,570)
];

// ---- graphics (titles, letters, legends, axis break)
const G = [];
function txt(x,y,text,o){
  o=o||{};
  G.push({type:'text', x:x, y:y, rotation:o.rot||0, z:300, silent:true,
    style:{text:text, fill:o.color||'#222', fontSize:o.size||14, fontFamily:FONT, fontWeight:o.weight||'normal',
      align:o.align||'center', verticalAlign:'middle', rich:o.rich}});
}
const RI = {i:{fontStyle:'italic', fontSize:15, fontFamily:FONT, fill:'#222'}, n:{fontSize:15, fontFamily:FONT, fill:'#222'}};
const RI14 = {i:{fontStyle:'italic', fontSize:14, fontFamily:FONT, fill:'#222'}, n:{fontSize:14, fontFamily:FONT, fill:'#222'}};
[['a',8.5,15.5],['b',496,14],['c',10,634],['d',308.5,634],['e',597.5,634]].forEach(l=>txt(l[1],l[2],l[0],{size:22,weight:'bold',color:'#111'}));
txt(12,294,'Intensity (a.u.)',{rot:Math.PI/2, size:14});
txt(12,947,'Intensity (a.u.)',{rot:Math.PI/2, size:14});
txt(497,291,'{n|Crystal plane spacing, }{i|d}{n| (Å)}',{rot:Math.PI/2, rich:RI14});
txt(237,596,'2θ (°)',{size:14});
txt(706,596,'{n|S composition, }{i|x}',{rich:RI14});
txt(156.5,1260,'Binding energy (eV)',{size:14});
txt(446.5,1260,'Binding energy (eV)',{size:14});
txt(732.5,1260,'Binding energy (eV)',{size:14});
txt(43,660,'{n|Se3}{i|d}',{align:'left', rich:RI});
txt(333,660,'{n|S2}{i|s}',{align:'left', rich:RI});
txt(617,660,'{n|V2}{i|p}',{align:'left', rich:RI});
function sw(x,y,w,h,c1,c2){
  G.push({type:'rect', z:300, silent:true, shape:{x:x,y:y,width:w,height:h},
    style:{fill:{type:'linear',x:0,y:0,x2:0,y2:1,colorStops:[{offset:0,color:c1},{offset:1,color:c2}]}}});
}
sw(188.5,649.5,23.5,17.5,'#c9abf2','#4b2a78'); txt(220,660,'Se (2⁻)',{align:'left',size:15});
sw(188.5,672,23.5,17.5,'#3cc3f2','#c9e5f5'); txt(220,682.5,'Se (0)',{align:'left',size:15});
sw(393.5,649.5,23.5,17.5,'#ff4cff','#ff4cff'); txt(423,659.5,'Se (2⁻)',{align:'left',size:15});
sw(482.5,649.5,23.5,17.5,'#bfe9b0','#6dcb5e'); txt(516.5,659.5,'Se (0)',{align:'left',size:15});
sw(393.5,672,23.5,17.5,'#cacaca','#cacaca'); txt(423,682.5,'S (2⁻)',{align:'left',size:15});
sw(482.5,672,23.5,17.5,'#8aa0b6','#8aa0b6'); txt(516.5,682.5,'S (0)',{align:'left',size:15});
sw(775,649.5,25,17.5,'#f07a32','#f07a32'); txt(810,660,'V (3⁺)',{align:'left',size:15});
sw(775,672,25,17.5,'#fde7a4','#fde7a4'); txt(810,682.5,'V (4⁺)',{align:'left',size:15});
// axis break marks (panel b)
[[546,293,570,285],[546,300,570,292],[843,293,867,285],[843,300,867,292]].forEach(s=>{
  G.push({type:'line', z:300, silent:true, shape:{x1:s[0],y1:s[1],x2:s[2],y2:s[3]}, style:{stroke:GRAY, lineWidth:1}});
});

const chart = echarts.init(document.getElementById('chart'), null, {renderer:'canvas'});
chart.setOption({
  animation:false, backgroundColor:'#ffffff',
  textStyle:{fontFamily:FONT},
  grid:grids, xAxis:xAxes, yAxis:yAxes, series:series, graphic:G
});
</script></body></html>
